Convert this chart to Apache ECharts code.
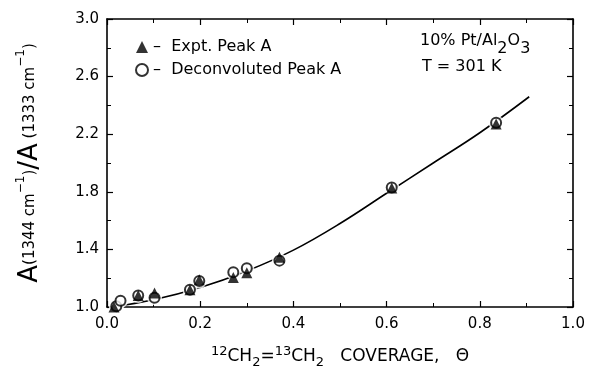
<!DOCTYPE html>
<html>
<head>
<meta charset="utf-8">
<script src="https://cdn.jsdelivr.net/npm/echarts@6/dist/echarts.min.js"></script>
<style>
  html, body { margin: 0; padding: 0; background: #fff; }
  #main { width: 589px; height: 374px; }
</style>
</head>
<body>
<div id="main"></div>
<script>
// values
const xTicks = [0.0, 0.2, 0.4, 0.6, 0.8, 1.0]
const yTicks = [1.0, 1.4, 1.8, 2.2, 2.6, 3.0]

// ▲ Expt. Peak A
const exptPeak = [
  [0.015, 1.0], [0.067, 1.08], [0.102, 1.097], [0.178, 1.12], [0.198, 1.19],
  [0.271, 1.205], [0.30, 1.237], [0.37, 1.345], [0.611, 1.826], [0.835, 2.27]
]
// O Deconvoluted Peak A
const deconvPeak = [
  [0.02, 1.005], [0.029, 1.043], [0.067, 1.08], [0.102, 1.065], [0.178, 1.12],
  [0.198, 1.18], [0.271, 1.241], [0.30, 1.269], [0.37, 1.322], [0.611, 1.83], [0.835, 2.28]
]
// fitted curve
const fitCurve = [
  [0.01, 1.0], [0.1, 1.05], [0.2, 1.135], [0.3, 1.25], [0.4, 1.395], [0.5, 1.58],
  [0.6, 1.79], [0.7, 2.0], [0.8, 2.21], [0.906, 2.46]
]

const font = 'DejaVu Sans'
const chart = echarts.init(document.getElementById('main'))

const frameAxis = {
  axisLine: { show: true, onZero: false, lineStyle: { color: '#000', width: 1.6 } },
  axisTick: { show: true, inside: true, length: 6, lineStyle: { color: '#000', width: 1.2 } },
  minorTick: { show: true, splitNumber: 2, length: 4, lineStyle: { color: '#000', width: 1 } },
  splitLine: { show: false }
}

const option = {
  animation: false,
  backgroundColor: '#fff',
  grid: { left: 107, right: 16, top: 19, bottom: 64 },
  legend: {
    orient: 'vertical',
    left: 130,
    top: 34,
    itemGap: 7,
    itemWidth: 12,
    itemHeight: 12,
    data: ['Expt. Peak A', 'Deconvoluted Peak A'],
    formatter: n => '–  ' + n,
    textStyle: { fontFamily: font, fontSize: 16, color: '#000' }
  },
  xAxis: [
    Object.assign({
      type: 'value', min: xTicks[0], max: xTicks[xTicks.length - 1], interval: 0.2,
      axisLabel: { formatter: v => v.toFixed(1), fontFamily: font, fontSize: 15, color: '#000', margin: 10 },
      name: '{p|12}{m|CH}{b|2}{m|=}{p|13}{m|CH}{b|2}{m|   COVERAGE,   Θ}',
      nameLocation: 'middle',
      nameGap: 38,
      nameTextStyle: {
        rich: {
          m: { fontFamily: font, fontSize: 17, color: '#000', verticalAlign: 'middle', lineHeight: 24 },
          p: { fontFamily: font, fontSize: 13, color: '#000', verticalAlign: 'top', lineHeight: 24 },
          b: { fontFamily: font, fontSize: 13, color: '#000', verticalAlign: 'bottom', lineHeight: 24 }
        }
      }
    }, frameAxis),
    Object.assign({
      type: 'value', position: 'top', min: 0, max: 1, interval: 0.2,
      axisLabel: { show: false }
    }, frameAxis)
  ],
  yAxis: [
    Object.assign({
      type: 'value', min: yTicks[0], max: yTicks[yTicks.length - 1], interval: 0.4,
      axisLabel: { formatter: v => v.toFixed(1), fontFamily: font, fontSize: 15, color: '#000', margin: 8 },
      name: '{a|A}{s|(1344 cm}{p|−1}{s|)}{a|/A}{s| (1333 cm}{p|−1}{s|)}',
      nameLocation: 'middle',
      nameGap: 62,
      nameTextStyle: {
        rich: {
          a: { fontFamily: font, fontSize: 26, color: '#000', verticalAlign: 'middle', lineHeight: 30 },
          s: { fontFamily: font, fontSize: 15, color: '#000', verticalAlign: 'middle', lineHeight: 30 },
          p: { fontFamily: font, fontSize: 12, color: '#000', verticalAlign: 'top', lineHeight: 30 }
        }
      }
    }, frameAxis),
    Object.assign({
      type: 'value', position: 'right', min: 1, max: 3, interval: 0.4,
      axisLabel: { show: false }
    }, frameAxis)
  ],
  graphic: [
    {
      type: 'text', left: 420, top: 33,
      style: {
        text: '{n|10% Pt/Al}{b|2}{n|O}{b|3}',
        rich: {
          n: { fontFamily: font, fontSize: 16, fill: '#000', verticalAlign: 'top', lineHeight: 24 },
          b: { fontFamily: font, fontSize: 16, fill: '#000', verticalAlign: 'bottom', lineHeight: 24 }
        }
      }
    },
    {
      type: 'text', left: 422, top: 59,
      style: { text: 'T = 301 K', fontFamily: font, fontSize: 16, fill: '#000' }
    }
  ],
  series: [
    {
      name: 'fit', type: 'line', data: fitCurve, smooth: 0.4, showSymbol: false, z: 1,
      lineStyle: { color: '#000', width: 1.6 }, silent: true
    },
    {
      name: 'halo', type: 'scatter', data: deconvPeak, symbol: 'circle', symbolSize: 15, z: 2,
      itemStyle: { color: '#fff' }, silent: true
    },
    {
      name: 'Deconvoluted Peak A', type: 'scatter', data: deconvPeak, symbol: 'circle', symbolSize: 10, z: 3,
      itemStyle: { color: '#fff', borderColor: '#000', borderWidth: 2 }
    },
    {
      name: 'Expt. Peak A', type: 'scatter', data: exptPeak, symbol: 'triangle', symbolSize: 11, z: 4,
      itemStyle: { color: '#000' }
    }
  ]
}

chart.setOption(option)
</script>
</body>
</html>
